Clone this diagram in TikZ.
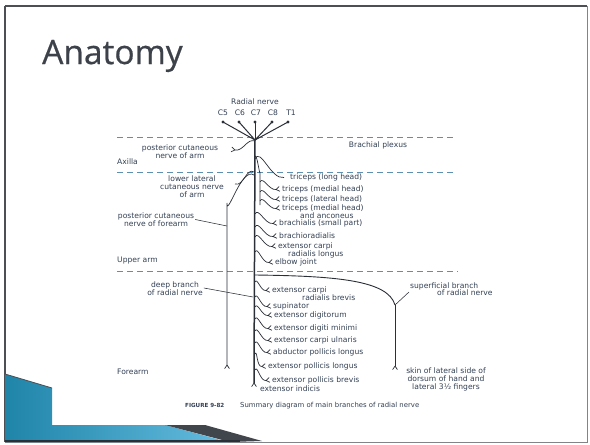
\documentclass[tikz,border=0pt]{standalone}
\usepackage{fontspec}
\usetikzlibrary{decorations.markings}
\newfontfamily\labfont{DejaVu Sans}
\newfontfamily\titlefont[FakeBold=0.6]{Open Sans}
\definecolor{labc}{rgb}{0.20,0.25,0.33}
\definecolor{nervec}{rgb}{0.17,0.19,0.22}
\definecolor{dashc}{rgb}{0.36,0.56,0.70}
\definecolor{titlec}{rgb}{0.24,0.26,0.29}
\definecolor{framec}{rgb}{0.30,0.31,0.33}
\definecolor{tealdark}{rgb}{0.12,0.52,0.66}
\definecolor{teallight}{rgb}{0.40,0.74,0.88}
\tikzset{
  lbl/.style={font=\labfont\fontsize{7.6}{8}\selectfont, text=labc, inner sep=0pt},
  captext/.style={font=\labfont\fontsize{6.9}{8}\selectfont, text=labc, inner sep=0pt},
  nerve/.style={draw=nervec, line width=0.7pt},
  mainnerve/.style={draw=nervec, line width=1.5pt},
  forked/.style={postaction={decorate}, decoration={markings,
    mark=at position 1 with {\draw[nervec, line width=0.7pt]
      (0pt,0pt) -- (3.6pt,2.4pt) (0pt,0pt) -- (3.6pt,-2.4pt);}}},
  leader/.style={draw=nervec, line width=0.55pt},
  zone/.style={draw=dashc, line width=0.8pt, dash pattern=on 6pt off 4pt},
}
\begin{document}
\begin{tikzpicture}[x=1pt,y=-1pt]
\useasboundingbox (0,0) rectangle (590,445);
\fill[white] (0,0) rectangle (590,445);

% slide frame
\draw[framec!70, line width=1pt] (5,6) rectangle (587,442);
\draw[framec, line width=1.6pt] (5,6) -- (587,6);
\draw[framec, line width=1.2pt] (5,6) -- (5,442);

% corner decoration at the lower left
\shade[left color=tealdark, right color=teallight]
  (5,374) -- (52,388) -- (52,425) -- (165,425) -- (228,442) -- (5,442) -- cycle;
\fill[nervec!90] (165,425) -- (205,425) -- (262,441) -- (230,442) -- cycle;
\draw[framec, line width=0.8pt] (5,374) -- (52,388);
\draw[nervec, line width=1.6pt] (5,441) -- (240,441);

% title
\node[anchor=base west, font=\titlefont\fontsize{33.5}{36}\selectfont, text=titlec, inner sep=0pt] (title) at (42,64) {Anatomy};

% region separators
\draw[zone] (117,137) -- (453,137);
\draw[zone] (117,172) -- (453,172);
\draw[zone] (117,271) -- (458,271);

% region names
\node[lbl, anchor=base west] (axilla) at (117,164.5) {Axilla};
\node[lbl, anchor=base west] (upper) at (117,262.5) {Upper arm};
\node[lbl, anchor=base west] (forearm) at (117,374.5) {Forearm};
\node[lbl, anchor=base] (plexus) at (378,147.5) {Brachial plexus};

% roots of the radial nerve
\node[lbl, anchor=base] (radial) at (255,104.5) {Radial nerve};
\coordinate (J) at (255,140);
\foreach \x/\t [count=\k] in {223/C5,240/C6,256/C7,273/C8,291/T1}
  \node[lbl, anchor=base] (root\k) at (\x,115.5) {\t};
\foreach \x [count=\k] in {223,239,255,272,288} {
  \coordinate (r\k) at (\x,122);
  \draw[nerve, line width=1pt] (r\k) -- (J);
  \fill[nervec] (r\k) circle (1.7);
}

% main trunk
\coordinate (bot) at (254,383);
\coordinate (botf) at (254,377);
\draw[mainnerve] (J) -- (bot);
\draw[nerve, forked] (botf) -- (bot);
\node[lbl, anchor=base west] (indicis) at (260,391.5) {extensor indicis};

% posterior cutaneous nerve of arm
\node[lbl, align=center] (pcna) at (180,151.5) {posterior cutaneous\\nerve of arm};
\coordinate (pa0) at (255,141);
\coordinate (pa1) at (235,150);
\draw[nerve, forked] (pa0) to[out=160,in=-10] (pa1);

% lower lateral cutaneous nerve of arm
\node[lbl, align=center] (llcn) at (192,187) {lower lateral\\cutaneous nerve\\of arm};
\coordinate (ll0) at (254,172);
\coordinate (ll1) at (235,184);
\draw[nerve, forked] (ll0) to[out=145,in=-20] (ll1);

% posterior cutaneous nerve of forearm
\node[lbl, align=center] (pcnf) at (156,219.5) {posterior cutaneous\\nerve of forearm};
\coordinate (pf0) at (254,175);
\coordinate (pf1) at (227,203);
\coordinate (pf2) at (227,365);
\coordinate (pfl) at (227,226);
\draw[nerve, forked] (pf0) to[out=145,in=-90] (pf1) -- (pf2);
\draw[leader] ([xshift=1pt]pcnf.east) -- (pfl);

% inner strand feeding the triceps branches
\coordinate (tri) at (255,157);
\draw[nerve] (tri) to[out=75,in=-90] (260,172) -- (260,205);

% muscular branches
\foreach \txt/\lx/\cy/\sx/\sy [count=\i] in {
  triceps (long head)/290/177/255/159,
  triceps (medial head)/282/189/260/182,
  triceps (lateral head)/282/199/260/192,
  triceps (medial head)/282/208/260/201,
  brachialis (small part)/279/223/255/214,
  brachioradialis/279/236/255/227,
  extensor carpi/278/246/255/237,
  elbow joint/275/262/255/252,
  extensor carpi/272/290/255/282,
  supinator/273/306/255/297,
  extensor digitorum/274/315/255/307,
  extensor digiti minimi/274/328/255/319,
  extensor carpi ulnaris/274/340/255/331,
  abductor pollicis longus/273/352/255/343,
  extensor pollicis longus/268/366/255/354,
  extensor pollicis brevis/272/380/255/370} {
  \node[lbl, anchor=base west] (m\i) at (\lx,\cy+2.5) {\txt};
  \coordinate (s\i) at (\sx,\sy);
  \coordinate (e\i) at (\lx-6,\cy+0.5);
  \draw[nerve, forked] (s\i) to[out=65,in=190] (e\i);
}
\node[lbl, anchor=base west] (anc) at (300,218.5) {and anconeus};
\node[lbl, anchor=base west] (longus) at (288,256.5) {radialis longus};
\node[lbl, anchor=base west] (brevis) at (302,300.5) {radialis brevis};

% deep branch
\node[lbl, align=center] (deep) at (175,289) {deep branch\\of radial nerve};
\coordinate (dp) at (253,297);
\draw[leader] ([xshift=1pt,yshift=1pt]deep.east) -- (dp);

% superficial branch
\coordinate (sb0) at (255,275);
\coordinate (sb1) at (395,305);
\coordinate (sb2) at (395,366);
\coordinate (sbl) at (409,292);
\draw[nerve, line width=0.9pt] (sb0) .. controls (335,276) and (388,280) .. (sb1);
\draw[nerve, forked] (sb1) -- (sb2);
\draw[leader] (sb1) -- (sbl);
\node[lbl, anchor=base west] (sup1) at (410,288.5) {superficial branch};
\node[lbl, anchor=base west] (sup2) at (437,295.5) {of radial nerve};
\node[lbl, align=center] (skin) at (446,379.5) {skin of lateral side of\\dorsum of hand and\\lateral 3\textonehalf\ fingers};

% caption
\node[captext, anchor=base west, font=\labfont\bfseries\fontsize{5.6}{7}\selectfont] (fig) at (185,407) {FIGURE 9-82};
\node[captext, anchor=base west] (caption) at (240,407) {Summary diagram of main branches of radial nerve};
\end{tikzpicture}
\end{document}
